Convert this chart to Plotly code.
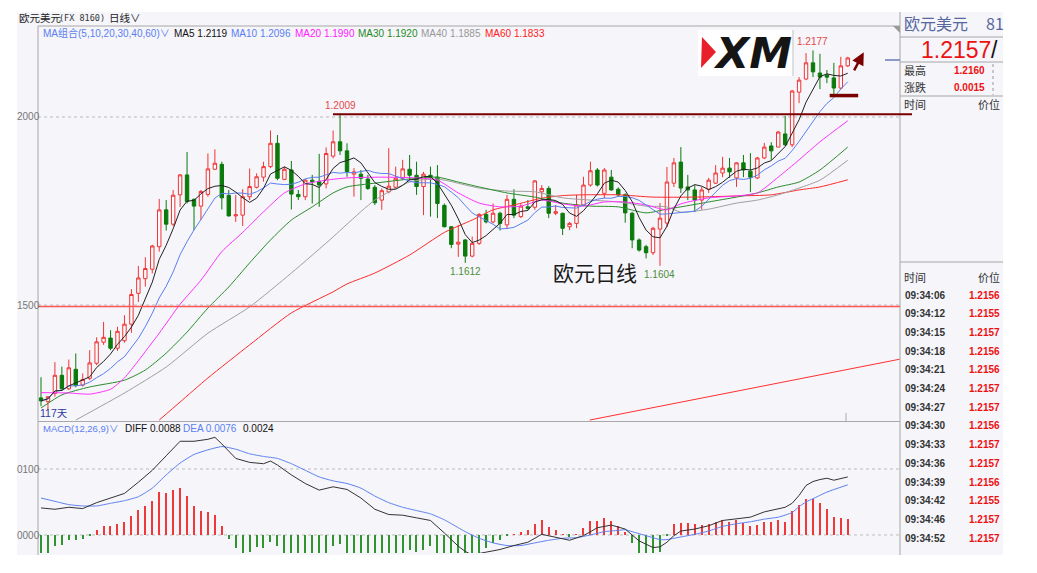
import plotly.graph_objects as go
import pandas as pd

PAGE_OFF = 8          # default body margin of the html page
FW, FH = 1021, 557    # figure size so that it fits the 1037x573 window
BG = "#f5f5fa"
RED = "#f03434"
GREEN = "#0b7a0b"
MAROON = "#7a0000"

def px(x):
    return (x - PAGE_OFF) / FW

def py(y):
    return 1 - (y - PAGE_OFF) / FH

# ---------------- data ----------------
days = list(range(1, 118))
open_p = [1.1253, 1.1243, 1.1265, 1.1313, 1.1277, 1.1329, 1.1287, 1.1305, 1.1345, 1.1401,
          1.1412, 1.1385, 1.1405, 1.1449, 1.1531, 1.1570, 1.1595, 1.1655, 1.1753, 1.1715,
          1.1793, 1.1846, 1.1781, 1.1763, 1.1794, 1.1861, 1.1874, 1.1791, 1.1737, 1.1739,
          1.1788, 1.1813, 1.1840, 1.1868, 1.1930, 1.1834, 1.1859, 1.1794, 1.1788, 1.1832,
          1.1828, 1.1822, 1.1896, 1.1934, 1.1910, 1.1848, 1.1848, 1.1835, 1.1813, 1.1779,
          1.1801, 1.1813, 1.1837, 1.1861, 1.1845, 1.1815, 1.1845, 1.1840, 1.1765, 1.1708,
          1.1662, 1.1673, 1.1630, 1.1664, 1.1741, 1.1721, 1.1744, 1.1713, 1.1781, 1.1735,
          1.1761, 1.1760, 1.1801, 1.1810, 1.1744, 1.1744, 1.1708, 1.1717, 1.1766, 1.1819,
          1.1859, 1.1797, 1.1840, 1.1808, 1.1793, 1.1744, 1.1673, 1.1655, 1.1639, 1.1702,
          1.1718, 1.1824, 1.1880, 1.1814, 1.1806, 1.1779, 1.1808, 1.1824, 1.1851, 1.1864,
          1.1838, 1.1878, 1.1856, 1.1838, 1.1891, 1.1923, 1.1920, 1.1955, 1.1926, 1.2066,
          1.2101, 1.2144, 1.2117, 1.2112, 1.2104, 1.2077, 1.2136]
high_p = [1.1308, 1.1258, 1.1348, 1.1336, 1.1355, 1.1371, 1.1318, 1.1380, 1.1414, 1.1455,
          1.1433, 1.1442, 1.1473, 1.1542, 1.1604, 1.1627, 1.1660, 1.1782, 1.1779, 1.1806,
          1.1848, 1.1907, 1.1783, 1.1806, 1.1903, 1.1914, 1.1881, 1.1806, 1.1793, 1.1808,
          1.1863, 1.1850, 1.1881, 1.1964, 1.1952, 1.1868, 1.1883, 1.1806, 1.1835, 1.1846,
          1.1902, 1.1919, 1.1964, 1.2009, 1.1930, 1.1864, 1.1859, 1.1846, 1.1819, 1.1810,
          1.1917, 1.1868, 1.1886, 1.1899, 1.1881, 1.1854, 1.1868, 1.1872, 1.1770, 1.1710,
          1.1713, 1.1675, 1.1682, 1.1744, 1.1753, 1.1770, 1.1748, 1.1793, 1.1808, 1.1770,
          1.1779, 1.1832, 1.1819, 1.1816, 1.1766, 1.1745, 1.1721, 1.1793, 1.1841, 1.1881,
          1.1864, 1.1864, 1.1859, 1.1813, 1.1797, 1.1748, 1.1677, 1.1660, 1.1708, 1.1771,
          1.1867, 1.1891, 1.1920, 1.1846, 1.1819, 1.1814, 1.1838, 1.1872, 1.1894, 1.1891,
          1.1880, 1.1899, 1.1904, 1.1894, 1.1931, 1.1933, 1.1963, 1.2003, 1.2072, 1.2106,
          1.2170, 1.2177, 1.2168, 1.2125, 1.2144, 1.2160, 1.2160]
low_p = [1.1231, 1.1221, 1.1256, 1.1274, 1.1274, 1.1281, 1.1283, 1.1300, 1.1340, 1.1394,
         1.1380, 1.1378, 1.1400, 1.1426, 1.1508, 1.1549, 1.1584, 1.1642, 1.1698, 1.1710,
         1.1761, 1.1770, 1.1699, 1.1726, 1.1788, 1.1859, 1.1754, 1.1735, 1.1721, 1.1710,
         1.1779, 1.1810, 1.1828, 1.1864, 1.1832, 1.1832, 1.1754, 1.1779, 1.1779, 1.1770,
         1.1761, 1.1810, 1.1890, 1.1899, 1.1841, 1.1788, 1.1779, 1.1806, 1.1766, 1.1753,
         1.1797, 1.1810, 1.1832, 1.1832, 1.1793, 1.1739, 1.1735, 1.1731, 1.1707, 1.1651,
         1.1628, 1.1612, 1.1627, 1.1660, 1.1717, 1.1717, 1.1698, 1.1704, 1.1731, 1.1731,
         1.1753, 1.1753, 1.1779, 1.1731, 1.1739, 1.1686, 1.1699, 1.1704, 1.1763, 1.1815,
         1.1815, 1.1784, 1.1804, 1.1788, 1.1719, 1.1651, 1.1642, 1.1624, 1.1633, 1.1604,
         1.1707, 1.1814, 1.1798, 1.1779, 1.1747, 1.1753, 1.1798, 1.1822, 1.1840, 1.1838,
         1.1814, 1.1840, 1.1800, 1.1835, 1.1888, 1.1886, 1.1920, 1.1923, 1.1920, 1.2037,
         1.2098, 1.2106, 1.2074, 1.2090, 1.2059, 1.2074, 1.2133]
close_p = [1.1245, 1.1256, 1.1313, 1.1277, 1.1333, 1.1286, 1.1302, 1.1346, 1.1402, 1.1414,
           1.1385, 1.1430, 1.1449, 1.1528, 1.1572, 1.1597, 1.1657, 1.1753, 1.1715, 1.1792,
           1.1846, 1.1775, 1.1763, 1.1802, 1.1862, 1.1877, 1.1785, 1.1737, 1.1740, 1.1788,
           1.1815, 1.1841, 1.1868, 1.1930, 1.1837, 1.1861, 1.1795, 1.1788, 1.1832, 1.1828,
           1.1819, 1.1903, 1.1934, 1.1910, 1.1855, 1.1854, 1.1837, 1.1810, 1.1772, 1.1804,
           1.1816, 1.1837, 1.1862, 1.1845, 1.1815, 1.1848, 1.1840, 1.1770, 1.1708, 1.1661,
           1.1667, 1.1630, 1.1664, 1.1741, 1.1721, 1.1744, 1.1717, 1.1781, 1.1739, 1.1763,
           1.1757, 1.1830, 1.1810, 1.1744, 1.1748, 1.1704, 1.1717, 1.1766, 1.1819, 1.1857,
           1.1819, 1.1859, 1.1806, 1.1793, 1.1745, 1.1673, 1.1646, 1.1639, 1.1704, 1.1731,
           1.1827, 1.1878, 1.1811, 1.1806, 1.1779, 1.1806, 1.1832, 1.1851, 1.1864, 1.1854,
           1.1878, 1.1859, 1.1840, 1.1891, 1.1920, 1.1910, 1.1960, 1.1926, 1.2069, 1.2098,
           1.2144, 1.2120, 1.2106, 1.2106, 1.2077, 1.2136, 1.2157]

# long moving averages (they depend on history before the window)
ma20_idx = [1, 5, 8, 11, 13, 15, 18, 21, 24, 27, 30, 33, 36, 39, 42, 45, 50, 55, 58, 61,
            64, 67, 70, 73, 76, 79, 82, 85, 88, 91, 93, 97, 101, 104, 107, 110, 113, 117]
ma20_val = [1.1267, 1.1266, 1.1263, 1.1276, 1.1306, 1.1352, 1.1425, 1.1502, 1.1566, 1.1642,
            1.1693, 1.1748, 1.1798, 1.1822, 1.1832, 1.1838, 1.1840, 1.1838, 1.1832, 1.1798,
            1.1771, 1.1761, 1.1763, 1.1779, 1.1769, 1.1763, 1.1774, 1.1774, 1.1766, 1.1753,
            1.1769, 1.1785, 1.1790, 1.1798, 1.1840, 1.1886, 1.1934, 1.1990]
ma30_idx = [1, 4, 8, 13, 16, 19, 22, 25, 28, 31, 34, 37, 40, 43, 45, 49, 54, 58, 61, 64,
            68, 72, 76, 80, 84, 88, 91, 93, 97, 101, 104, 107, 110, 113, 117]
ma30_val = [1.1226, 1.1261, 1.1282, 1.1300, 1.1327, 1.1372, 1.1428, 1.1492, 1.1548, 1.1612,
            1.1673, 1.1726, 1.1761, 1.1798, 1.1814, 1.1824, 1.1835, 1.1840, 1.1827, 1.1814,
            1.1798, 1.1787, 1.1771, 1.1763, 1.1761, 1.1745, 1.1755, 1.1761, 1.1774, 1.1787,
            1.1798, 1.1814, 1.1827, 1.1859, 1.1920]
ma40_idx = [6, 13, 19, 25, 31, 37, 43, 45, 49, 54, 58, 64, 68, 72, 76, 80, 84, 88, 91, 93,
            97, 101, 104, 107, 110, 113, 117]
ma40_val = [1.1194, 1.1266, 1.1335, 1.1425, 1.1495, 1.1585, 1.1681, 1.1715, 1.1779, 1.1827,
            1.1835, 1.1811, 1.1803, 1.1801, 1.1785, 1.1779, 1.1774, 1.1763, 1.1761, 1.1747,
            1.1755, 1.1771, 1.1779, 1.1793, 1.1811, 1.1832, 1.1885]
ma60_idx = [18, 21, 25, 31, 37, 43, 45, 49, 54, 59, 63, 66, 69, 73, 76, 79, 84, 89, 95,
            101, 106, 110, 113, 117]
ma60_val = [1.1194, 1.1242, 1.1306, 1.1394, 1.1479, 1.1535, 1.1556, 1.1585, 1.1633, 1.1693,
            1.1726, 1.1753, 1.1766, 1.1784, 1.1791, 1.1793, 1.1793, 1.1787, 1.1787, 1.1790,
            1.1793, 1.1806, 1.1814, 1.1833]

diff_idx = [1, 3, 5, 7, 9, 11, 13, 15, 17, 19, 21, 23, 25, 26, 27, 29, 31, 33, 34, 35,
            37, 39, 41, 43, 45, 47, 49, 51, 53, 55, 57, 59, 61, 62, 63, 65, 67, 69, 71, 73,
            75, 77, 79, 81, 83, 85, 87, 89, 90, 91, 92, 93, 95, 97, 99, 101, 103, 105, 107, 108,
            109, 110, 111, 112, 113, 114, 115, 116, 117]
diff_val = [0.0041, 0.0039, 0.0042, 0.0040, 0.0049, 0.0056, 0.0063, 0.0080, 0.0098, 0.0120,
            0.0142, 0.0142, 0.0145, 0.0148, 0.0138, 0.0116, 0.0110, 0.0108, 0.0112, 0.0106,
            0.0091, 0.0078, 0.0068, 0.0073, 0.0069, 0.0056, 0.0039, 0.0031, 0.0030, 0.0026,
            0.0022, 0.0003, -0.0017, -0.0025, -0.0030, -0.0026, -0.0022, -0.0016, -0.0011, 0.0001,
            -0.0004, -0.0008, -0.0001, 0.0011, 0.0015, 0.0009, -0.0009, -0.0019, -0.0018, -0.0011,
            -0.0001, 0.0006, 0.0009, 0.0014, 0.0022, 0.0025, 0.0027, 0.0035, 0.0040, 0.0042,
            0.0048, 0.0060, 0.0075, 0.0081, 0.0084, 0.0086, 0.0083, 0.0085, 0.0088]
dea_idx = [1, 3, 5, 7, 9, 11, 13, 15, 17, 19, 21, 23, 25, 27, 29, 31, 33, 35, 37, 39,
           41, 43, 45, 47, 49, 51, 53, 55, 57, 59, 61, 62, 64, 66, 68, 70, 72, 74, 76, 78,
           80, 82, 84, 85, 86, 88, 90, 91, 92, 93, 95, 97, 99, 101, 103, 105, 107, 109, 110, 111,
           112, 114, 117]
dea_val = [0.0056, 0.0051, 0.0046, 0.0044, 0.0044, 0.0048, 0.0052, 0.0058, 0.0071, 0.0091,
           0.0109, 0.0122, 0.0129, 0.0134, 0.0130, 0.0123, 0.0119, 0.0116, 0.0108, 0.0098,
           0.0088, 0.0082, 0.0078, 0.0071, 0.0059, 0.0049, 0.0042, 0.0037, 0.0032, 0.0023,
           0.0011, 0.0005, -0.0005, -0.0012, -0.0016, -0.0016, -0.0012, -0.0008, -0.0005, -0.0004,
           0.0000, 0.0005, 0.0007, 0.0008, 0.0005, -0.0001, -0.0007, -0.0007, -0.0005, -0.0003,
           0.0001, 0.0006, 0.0013, 0.0017, 0.0020, 0.0024, 0.0027, 0.0034, 0.0043, 0.0050,
           0.0055, 0.0065, 0.0076]
macd_hist = [-0.0030, -0.0028, -0.0017, -0.0015, -0.0007, -0.0007, -0.0006, -0.0001, 0.0007, 0.0014,
             0.0013, 0.0017, 0.0020, 0.0029, 0.0038, 0.0044, 0.0052, 0.0065, 0.0063, 0.0068,
             0.0071, 0.0059, 0.0044, 0.0037, 0.0035, 0.0031, 0.0013, -0.0006, -0.0020, -0.0030,
             -0.0026, -0.0018, -0.0020, -0.0010, -0.0017, -0.0028, -0.0034, -0.0037, -0.0040, -0.0040,
             -0.0040, -0.0030, -0.0017, -0.0014, -0.0027, -0.0030, -0.0030, -0.0035, -0.0040, -0.0038,
             -0.0036, -0.0030, -0.0027, -0.0022, -0.0026, -0.0022, -0.0017, -0.0030, -0.0040, -0.0048,
             -0.0056, -0.0058, -0.0050, -0.0040, -0.0020, -0.0012, -0.0008, -0.0001, 0.0001, 0.0004,
             0.0007, 0.0017, 0.0022, 0.0012, 0.0008, 0.0001, -0.0003, 0.0001, 0.0010, 0.0021,
             0.0021, 0.0025, 0.0021, 0.0013, 0.0004, -0.0012, -0.0030, -0.0032, -0.0030, -0.0026,
             -0.0001, 0.0016, 0.0018, 0.0018, 0.0016, 0.0015, 0.0017, 0.0020, 0.0022, 0.0020,
             0.0022, 0.0018, 0.0013, 0.0015, 0.0019, 0.0019, 0.0023, 0.0020, 0.0036, 0.0046,
             0.0054, 0.0054, 0.0048, 0.0040, 0.0028, 0.0026, 0.0024]

ma_legend = [("MA5 1.2119", "#111111"), ("MA10 1.2096", "#5b7ff0"), ("MA20 1.1990", "#ff22ff"),
             ("MA30 1.1920", "#1f8a1f"), ("MA40 1.1885", "#999999"), ("MA60 1.1833", "#ff2020")]
tick_times = ["09:34:06", "09:34:12", "09:34:15", "09:34:18", "09:34:21", "09:34:24", "09:34:27",
              "09:34:30", "09:34:33", "09:34:36", "09:34:39", "09:34:42", "09:34:46", "09:34:52"]
tick_prices = ["1.2156", "1.2155", "1.2157", "1.2156", "1.2156", "1.2157", "1.2157",
               "1.2156", "1.2157", "1.2157", "1.2156", "1.2155", "1.2157", "1.2157"]

resistance = 1.2007
support_line = 1.1496
box_line = 1.2057
trend_x = [79.9, 124.5]
trend_y = [1.1194, 1.1356]

ma5 = pd.Series(close_p).rolling(5, min_periods=1).mean()
ma10 = pd.Series(close_p).rolling(10, min_periods=1).mean()

X_RANGE = [0.569, 124.51]
Y_RANGE = [1.11915, 1.22420]
Y2_RANGE = [-0.00273, 0.017121]

fig = go.Figure()
fig.add_trace(go.Candlestick(
    x=days, open=open_p, high=high_p, low=low_p, close=close_p,
    increasing=dict(line=dict(color=RED, width=1), fillcolor="#fbfbfd"),
    decreasing=dict(line=dict(color=GREEN, width=1), fillcolor=GREEN),
    whiskerwidth=0, hoverinfo="skip", showlegend=False, xaxis="x", yaxis="y"))

fig.add_trace(go.Scatter(x=ma60_idx, y=ma60_val, mode="lines", line=dict(color="#ff2a2a", width=1, shape="spline", smoothing=0.6), hoverinfo="skip"))
fig.add_trace(go.Scatter(x=ma40_idx, y=ma40_val, mode="lines", line=dict(color="#a0a0a0", width=1, shape="spline", smoothing=0.6), hoverinfo="skip"))
fig.add_trace(go.Scatter(x=ma30_idx, y=ma30_val, mode="lines", line=dict(color="#2b8c2b", width=1, shape="spline", smoothing=0.6), hoverinfo="skip"))
fig.add_trace(go.Scatter(x=ma20_idx, y=ma20_val, mode="lines", line=dict(color="#ff30ff", width=1, shape="spline", smoothing=0.6), hoverinfo="skip"))
fig.add_trace(go.Scatter(x=days, y=ma10, mode="lines", line=dict(color="#5b7ff0", width=1), hoverinfo="skip"))
fig.add_trace(go.Scatter(x=days, y=ma5, mode="lines", line=dict(color="#222222", width=1), hoverinfo="skip"))

fig.add_trace(go.Scatter(x=trend_x, y=trend_y, mode="lines", line=dict(color="#ff3030", width=1), hoverinfo="skip"))

# MACD panel
fig.add_trace(go.Bar(x=days, y=macd_hist, width=0.17,
                     marker=dict(color=["#f03838" if v >= 0 else "#2f952f" for v in macd_hist], line=dict(width=0)),
                     xaxis="x2", yaxis="y2", hoverinfo="skip"))
fig.add_trace(go.Scatter(x=dea_idx, y=dea_val, mode="lines", line=dict(color="#5b7ff0", width=1, shape="spline", smoothing=0.5),
                         xaxis="x2", yaxis="y2", hoverinfo="skip"))
fig.add_trace(go.Scatter(x=diff_idx, y=diff_val, mode="lines", line=dict(color="#333333", width=1),
                         xaxis="x2", yaxis="y2", hoverinfo="skip"))

shapes = []
# panel background
shapes.append(dict(type="rect", xref="paper", yref="paper", x0=px(17), x1=px(1003), y0=py(555), y1=py(12),
                   fillcolor=BG, line=dict(width=0), layer="below"))
GRID = "#bdbdbd"
LINE = "#a8a8a8"
for yv in [1.2, 1.15]:
    shapes.append(dict(type="line", xref="paper", yref="y", x0=px(38), x1=px(900), y0=yv, y1=yv,
                       line=dict(color=GRID, width=1, dash="dot"), layer="below"))
for yv in [0.01, 0.0]:
    shapes.append(dict(type="line", xref="paper", yref="y2", x0=px(38), x1=px(900), y0=yv, y1=yv,
                       line=dict(color=GRID, width=1, dash="dot"), layer="below"))
# frame lines
for (x0, y0, x1, y1) in [(38, 26, 38, 555), (38, 26, 900, 26), (38, 421.5, 900, 421.5), (900, 12, 900, 555),
                         (900, 37, 1003, 37), (900, 62, 1003, 62), (900, 96, 1003, 96), (900, 262, 1003, 262)]:
    shapes.append(dict(type="line", xref="paper", yref="paper", x0=px(x0), x1=px(x1), y0=py(y0), y1=py(y1),
                       line=dict(color=LINE, width=1)))
shapes.append(dict(type="line", xref="paper", yref="paper", x0=px(993), x1=px(993), y0=py(64), y1=py(95),
                   line=dict(color="#999999", width=1, dash="dot")))
shapes.append(dict(type="path", xref="paper", yref="paper",
                   path=f"M {px(893)},{py(26)} L {px(900)},{py(26)} L {px(900)},{py(33)} Z",
                   fillcolor="#9a9a9a", line=dict(width=0)))
# drawn lines
shapes.append(dict(type="line", xref="paper", yref="y", x0=px(38), x1=px(900), y0=support_line, y1=support_line,
                   line=dict(color="#ff5555", width=1.5)))
shapes.append(dict(type="line", xref="paper", yref="y", x0=px(333), x1=px(912), y0=resistance, y1=resistance,
                   line=dict(color=MAROON, width=2)))
shapes.append(dict(type="line", xref="x", yref="y", x0=114.4, x1=118.5, y0=box_line, y1=box_line,
                   line=dict(color=MAROON, width=3.5)))
shapes.append(dict(type="line", xref="paper", yref="paper", x0=px(885), x1=px(900), y0=py(60), y1=py(60),
                   line=dict(color="#6a78b8", width=1.5)))
shapes.append(dict(type="line", xref="paper", yref="paper", x0=px(846), x1=px(846), y0=py(413), y1=py(421),
                   line=dict(color="#aaaaaa", width=1)))
# XM logo
shapes.append(dict(type="rect", xref="paper", yref="paper", x0=px(698), x1=px(792), y0=py(76), y1=py(30),
                   fillcolor="white", line=dict(width=0)))
shapes.append(dict(type="line", xref="paper", yref="paper", x0=px(793), x1=px(793), y0=py(76), y1=py(30),
                   line=dict(color="#c8c8c8", width=1)))
shapes.append(dict(type="path", xref="paper", yref="paper",
                   path=f"M {px(702)},{py(37)} L {px(716)},{py(52)} L {px(701)},{py(68)} Z",
                   fillcolor="#e8202a", line=dict(width=0)))

ann = []
LAT = "Liberation Sans, Noto Sans CJK SC"
CJK = "Noto Sans CJK SC, Liberation Sans"

def txt(x, y, s, color="#222222", size=10, anchor="left", family=LAT):
    ann.append(dict(xref="paper", yref="paper", x=px(x), y=py(y), text=s, showarrow=False,
                    xanchor=anchor, yanchor="middle", font=dict(family=family, size=size, color=color)))

# header
txt(17, 18, "欧元美元", "#222222", 10.5, family=CJK)
txt(57, 18, "(FX 8160)", "#333333", 8.5, family="DejaVu Sans Mono")
txt(107, 18, "日线∨", "#222222", 10.5, family=CJK)
# legend MA
txt(41, 33, "MA组合(5,10,20,30,40,60)∨", "#5b7ff0", 10)
for (s, c), xx in zip(ma_legend, [172, 229, 293, 356, 419, 483]):
    txt(xx, 33, s, c, 10)
# MACD legend
txt(41, 428, "MACD(12,26,9)∨", "#5b7ff0", 9.5)
txt(123, 428, "DIFF 0.0088", "#111111", 10)
txt(181, 428, "DEA 0.0076", "#5b7ff0", 10)
txt(241, 428, "0.0024", "#111111", 10)
# axis labels
txt(15, 117, "2000", "#777777", 10)
txt(15, 305, "1500", "#777777", 10)
txt(15, 469, "0100", "#777777", 10)
txt(15, 535, "0000", "#777777", 10)
# chart notes
txt(38, 413, "117天", "#2b3aa0", 10.5)
txt(551, 272, "欧元日线", "#1a1a1a", 21, family=CJK)
ann.append(dict(xref="paper", yref="paper", x=px(752), y=py(53), text="<b><i>XM</i></b>", showarrow=False,
                xanchor="center", yanchor="middle", font=dict(family="DejaVu Sans", size=43, color="#151515")))
ann.append(dict(x=44, y=1.2009, xref="x", yref="y", text="1.2009", showarrow=False, yanchor="bottom", yshift=1,
                font=dict(family=LAT, size=10, color="#e44848")))
ann.append(dict(x=112, y=1.2177, xref="x", yref="y", text="1.2177", showarrow=False, yanchor="bottom", yshift=1,
                font=dict(family=LAT, size=10, color="#e44848")))
ann.append(dict(x=62, y=1.1612, xref="x", yref="y", text="1.1612", showarrow=False, yanchor="top", yshift=-1,
                font=dict(family=LAT, size=10, color="#4f8f3a")))
ann.append(dict(x=90, y=1.1604, xref="x", yref="y", text="1.1604", showarrow=False, yanchor="top", yshift=-1,
                font=dict(family=LAT, size=10, color="#4f8f3a")))
ann.append(dict(x=119.3, y=1.2172, xref="x", yref="y", ax=117.8, ay=1.2120, axref="x", ayref="y",
                text="", showarrow=True, arrowhead=2, arrowsize=1, arrowwidth=2.5, arrowcolor=MAROON))
# right panel
txt(902, 23, "欧元美元", "#55679f", 16, family=CJK)
txt(984, 23, "81", "#55679f", 16, family=CJK)
txt(919, 50, "1.2157", "#ee1111", 23)
txt(989, 50, "/", "#111111", 23)
txt(902, 70, "最高", "#333333", 11, family=CJK)
txt(987, 70, "<b>1.2160</b>", "#ee1111", 10, anchor="right")
txt(902, 87, "涨跌", "#333333", 11, family=CJK)
txt(987, 87, "<b>0.0015</b>", "#ee1111", 10, anchor="right")
txt(902, 104, "时间", "#333333", 11, family=CJK)
txt(1002, 104, "价位", "#333333", 11, anchor="right", family=CJK)
txt(902, 277, "时间", "#333333", 11, family=CJK)
txt(1002, 277, "价位", "#333333", 11, anchor="right", family=CJK)
for i, (t, p) in enumerate(zip(tick_times, tick_prices)):
    yy = 295 + i * 18.7
    txt(903, yy, f"<b>{t}</b>", "#333333", 10)
    txt(1002, yy, f"<b>{p}</b>", "#ee1111", 10, anchor="right")

fig.update_layout(
    width=FW, height=FH, margin=dict(l=0, r=0, t=0, b=0),
    paper_bgcolor="white", plot_bgcolor="rgba(0,0,0,0)", showlegend=False,
    xaxis=dict(domain=[px(38), px(900)], range=X_RANGE, visible=False, rangeslider=dict(visible=False), fixedrange=True),
    yaxis=dict(domain=[py(421), py(26)], range=Y_RANGE, visible=False, fixedrange=True),
    xaxis2=dict(domain=[px(38), px(900)], range=X_RANGE, visible=False, anchor="y2", fixedrange=True),
    yaxis2=dict(domain=[py(553), py(422)], range=Y2_RANGE, visible=False, anchor="x2", fixedrange=True),
    bargap=0, shapes=shapes, annotations=ann,
    font=dict(family=LAT, size=10),
)

fig.write_html("out.html")
